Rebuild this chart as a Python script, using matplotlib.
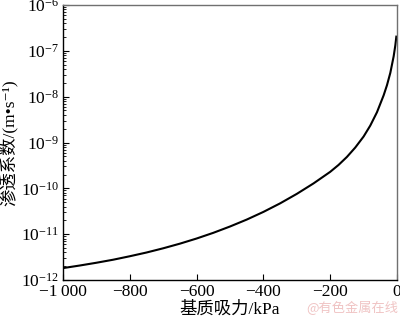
import numpy as np
import matplotlib.pyplot as plt
from matplotlib.ticker import LogLocator, FixedLocator

plt.rcParams['font.family'] = ['Liberation Serif', 'Noto Sans CJK SC', 'DejaVu Serif']
plt.rcParams['mathtext.fontset'] = 'custom'
plt.rcParams['mathtext.rm'] = 'Liberation Serif'
plt.rcParams['mathtext.it'] = 'Liberation Serif:italic'

# matric suction (kPa) and permeability (m/s)
suction = [-1000, -950, -900, -850, -800, -750, -700, -650, -600, -550,
           -500, -450, -400, -350, -300, -250, -200, -175, -150, -125,
           -100, -80, -60, -40, -30, -20, -10, -5, -2]
permeability = [1.82e-12, 2.07e-12, 2.38e-12, 2.77e-12, 3.30e-12, 3.98e-12,
                 4.92e-12, 6.21e-12, 8.04e-12, 1.07e-11, 1.47e-11, 2.08e-11,
                 3.06e-11, 4.70e-11, 7.57e-11, 1.28e-10, 2.29e-10, 3.24e-10,
                 4.84e-10, 7.76e-10, 1.35e-9, 2.34e-9, 4.57e-9, 1.07e-8,
                 1.78e-8, 3.31e-8, 7.59e-8, 1.32e-7, 2.04e-7]
xticks = [-1000, -800, -600, -400, -200, 0]
xticklabels = ['\u22121\u2009000', '\u2212800', '\u2212600', '\u2212400', '\u2212200', '0']
yticks = [1e-12, 1e-11, 1e-10, 1e-9, 1e-8, 1e-7, 1e-6]
yticklabels = ['$10^{-12}$', '$10^{-11}$', '$10^{-10}$', '$10^{-9}$',
               '$10^{-8}$', '$10^{-7}$', '$10^{-6}$']

fig = plt.figure(figsize=(4.0, 3.22), dpi=100)
ax = fig.add_axes([0.1575, 0.1304, 0.835, 0.8541])

ax.plot(suction, permeability, color='black', lw=1.5)

ax.set_yscale('log')
ax.set_xlim(-1000, 0)
ax.set_ylim(1e-12, 1e-6)

ax.set_xticks(xticks)
ax.set_xticklabels(xticklabels)
ax.yaxis.set_major_locator(FixedLocator(yticks))
ax.set_yticklabels(yticklabels)
ax.yaxis.set_minor_locator(LogLocator(base=10, subs=np.arange(2, 10), numticks=20))
ax.tick_params(axis='both', which='major', direction='in', length=4, width=0.8,
               labelsize=12.5, pad=3)
ax.tick_params(axis='y', which='minor', direction='in', length=2.5, width=0.6)
ax.tick_params(axis='y', which='minor', labelleft=False)

for side in ['left', 'bottom']:
    ax.spines[side].set_color('black')
    ax.spines[side].set_linewidth(1.0)
for side in ['top', 'right']:
    ax.spines[side].set_color('#707070')
    ax.spines[side].set_linewidth(1.0)

ax.set_xlabel('基质吸力/kPa', fontsize=12.5, labelpad=1)
ax.set_ylabel('渗透系数/(m•s\u207b\u00b9)', fontsize=12.5, labelpad=2)

fig.text(0.995, 0.045, '@有色金属在线', color='#f0c4c4', fontsize=9.5,
         ha='right', va='center', family=['Noto Sans CJK SC', 'DejaVu Sans'])

fig.savefig('out.png', dpi=100)
